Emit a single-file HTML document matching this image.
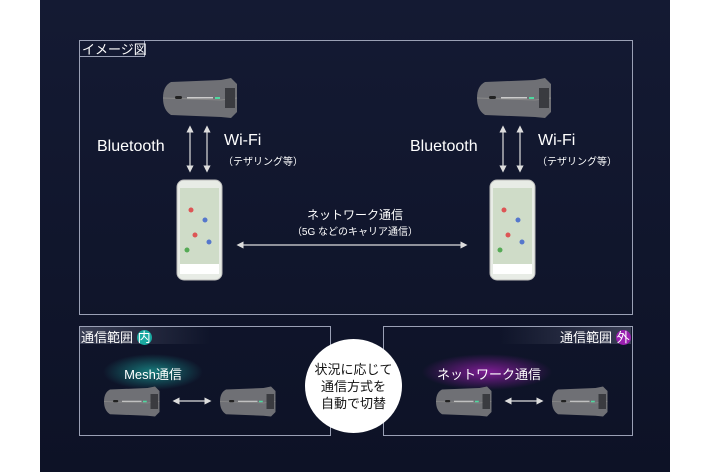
<!DOCTYPE html><html><head><meta charset="utf-8"><style>
body{margin:0;width:710px;height:474px;background:#fff;position:relative;overflow:hidden;font-family:"Liberation Sans","Noto Sans CJK JP",sans-serif;color:#fff}
.bg{position:absolute;left:40px;top:0;width:630px;height:472px;background:linear-gradient(180deg,#141a33,#0d1226)}
.a{position:absolute}
.box{position:absolute;border:1px solid #9aa0b5}
.t{position:absolute;white-space:nowrap}
</style></head><body>
<div class="bg"></div>
<div class="box" style="left:79px;top:40px;width:552px;height:273px"></div>
<div class="box t" style="left:79px;top:40px;width:66px;height:17px;font-size:13px;line-height:17px;padding-left:2px;box-sizing:border-box">イメージ図</div>
<svg class="a" style="left:0;top:0" width="710" height="474">
<defs>
<g id="dev"><path d="M8 2 L58 0 L68 -2 L74 4 L74 32 L68 38 L58 37 L8 35 Q0 30 0 18 Q0 6 8 2Z" fill="#6f7075"/><path d="M0 18 L58 20 L74 18" stroke="#888" fill="none"/><path d="M62 8 L72 8 L72 28 L62 28Z" fill="#3a3b40"/><rect x="12" y="16" width="7" height="3" rx="1.5" fill="#222"/><rect x="24" y="17" width="26" height="1.5" fill="#ccc"/><rect x="52" y="17" width="5" height="2" fill="#4fd9a0"/></g>
<g id="ph"><rect x="0" y="0" width="45" height="100" rx="7" fill="#e8ece6" stroke="#bbb"/><rect x="3" y="8" width="39" height="86" fill="#cfdcc8"/><circle cx="14" cy="30" r="2.5" fill="#d55"/><circle cx="28" cy="40" r="2.5" fill="#57c"/><circle cx="18" cy="55" r="2.5" fill="#d55"/><circle cx="32" cy="62" r="2.5" fill="#57c"/><circle cx="10" cy="70" r="2.5" fill="#5a5"/><rect x="3" y="84" width="39" height="10" fill="#fff"/></g>
<marker id="ar" markerWidth="6" markerHeight="6" refX="3" refY="3" orient="auto-start-reverse"><path d="M0 0 L6 3 L0 6Z" fill="#ddd"/></marker>
<radialGradient id="gc"><stop offset="0" stop-color="#1aa9a0" stop-opacity=".7"/><stop offset="1" stop-color="#1aa9a0" stop-opacity="0"/></radialGradient>
<radialGradient id="gm"><stop offset="0" stop-color="#9a1fb0" stop-opacity=".8"/><stop offset="1" stop-color="#9a1fb0" stop-opacity="0"/></radialGradient>
<linearGradient id="lb" x1="0" x2="1"><stop offset="0" stop-color="#3a3f55"/><stop offset="1" stop-color="#3a3f55" stop-opacity="0"/></linearGradient>
<linearGradient id="rb" x1="1" x2="0"><stop offset="0" stop-color="#3a3f55"/><stop offset="1" stop-color="#3a3f55" stop-opacity="0"/></linearGradient>
</defs>
<use href="#dev" transform="translate(163,80)"/><use href="#dev" transform="translate(477,80)"/>
<use href="#ph" transform="translate(177,180)"/><use href="#ph" transform="translate(490,180)"/>
<g stroke="#ddd" stroke-width="1.2" marker-start="url(#ar)" marker-end="url(#ar)">
<line x1="190" y1="129" x2="190" y2="169"/><line x1="207" y1="129" x2="207" y2="169"/>
<line x1="503" y1="129" x2="503" y2="169"/><line x1="520" y1="129" x2="520" y2="169"/>
<line x1="240" y1="245" x2="464" y2="245"/>
<line x1="176" y1="401" x2="208" y2="401"/><line x1="508" y1="401" x2="540" y2="401"/>
</g>
<rect x="80" y="327" width="130" height="17" fill="url(#lb)"/>
<rect x="500" y="327" width="131" height="17" fill="url(#rb)"/>
<ellipse cx="153" cy="372" rx="50" ry="18" fill="url(#gc)"/>
<ellipse cx="487" cy="372" rx="65" ry="18" fill="url(#gm)"/>
<use href="#dev" transform="translate(104,388) scale(.75)"/><use href="#dev" transform="translate(220,388) scale(.75)"/>
<use href="#dev" transform="translate(436,388) scale(.75)"/><use href="#dev" transform="translate(552,388) scale(.75)"/>
</svg>
<div class="t" style="left:97px;top:138px;font-size:16px">Bluetooth</div>
<div class="t" style="left:224px;top:132px;font-size:16px">Wi-Fi</div>
<div class="t" style="left:223px;top:153px;font-size:10px">（テザリング等）</div>
<div class="t" style="left:410px;top:138px;font-size:16px">Bluetooth</div>
<div class="t" style="left:538px;top:132px;font-size:16px">Wi-Fi</div>
<div class="t" style="left:537px;top:153px;font-size:10px">（テザリング等）</div>
<div class="t" style="left:255px;top:206px;width:200px;text-align:center;font-size:12px">ネットワーク通信</div>
<div class="t" style="left:255px;top:223px;width:200px;text-align:center;font-size:10px">（5G などのキャリア通信）</div>
<div class="box" style="left:79px;top:326px;width:250px;height:108px"></div>
<div class="box" style="left:383px;top:326px;width:248px;height:108px"></div>
<div class="t" style="left:81px;top:327px;font-size:13px">通信範囲 <span style="background:#1aa9a0;border-radius:8px;padding:0 1px">内</span></div>
<div class="t" style="left:560px;top:327px;font-size:13px">通信範囲 <span style="background:#9a1fb0;border-radius:8px;padding:0 1px">外</span></div>
<div class="t" style="left:103px;top:364px;width:100px;text-align:center;font-size:13px">Mesh通信</div>
<div class="t" style="left:437px;top:364px;width:100px;text-align:center;font-size:13px">ネットワーク通信</div>
<div class="a" style="left:305px;top:339px;width:97px;height:94px;border-radius:50%;background:#fff;color:#111;font-size:13px;line-height:17px;text-align:center;display:flex;align-items:center;justify-content:center">状況に応じて<br>通信方式を<br>自動で切替</div>
</body></html>
